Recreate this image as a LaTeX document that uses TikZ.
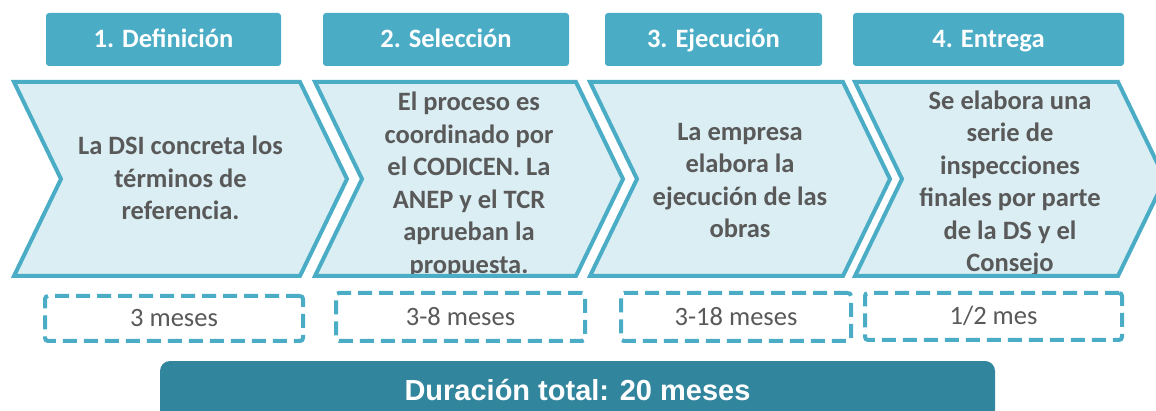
\documentclass[tikz,border=0pt]{standalone}
\usepackage{fontspec}
\setmainfont{Carlito}
\newfontfamily\arialfont{Liberation Sans}
\definecolor{aqua}{HTML}{4BACC6}
\definecolor{aqualight}{HTML}{DAEEF3}
\definecolor{aquadark}{HTML}{31859C}
\definecolor{txtgray}{HTML}{595959}
\begin{document}
\begin{tikzpicture}[x=1pt,y=-1pt,
  chevfill/.style={fill=aqualight},
  chevline/.style={draw=aqua, line width=4pt},
  chevtext/.style={font=\fontsize{26.5}{32.5}\selectfont\bfseries, text=txtgray, align=center, inner sep=0pt},
  hdr/.style={fill=aqua, rounded corners=3pt, inner sep=0pt, text=white,
    font=\fontsize{26.5}{32}\selectfont\bfseries, text height=17pt, text depth=0pt, minimum height=53pt},
  dur/.style={draw=aqua, fill=white, line width=4pt, dash pattern=on 14pt off 7pt,
    rounded corners=3pt, inner sep=0pt, text=txtgray, font=\fontsize{26.5}{32}\selectfont,
    text height=16.7pt, text depth=0pt},
  total/.style={fill=aquadark, rounded corners=10pt, inner sep=0pt, text=white,
    font=\arialfont\bfseries\fontsize{29}{34}\selectfont, text height=20.8pt, text depth=0pt}]
\useasboundingbox (0,0) rectangle (1156,411);
\clip (0,0) rectangle (1156,411);
% headers
\node[hdr, minimum width=235pt] (h1) at (163.5,39.5) {1. Definición};
\node[hdr, minimum width=246pt] (h2) at (446,39.5) {2. Selección};
\node[hdr, minimum width=217pt] (h3) at (713.5,39.5) {3. Ejecución};
\node[hdr, minimum width=271pt] (h4) at (988.5,39.5) {4. Entrega};
% chevron fills
\foreach \l/\r in {14/300, 315/576, 590/843, 855/1118}
  {\fill[chevfill] (\l,82) -- (\r,82) -- (\r+47,179) -- (\r,276) -- (\l,276) -- (\l+47,179) -- cycle;}
% chevron texts
\node[chevtext] (t1) at (180.5,178.3) {La DSI concreta los\\términos de\\referencia.};
\node[chevtext] (t2) at (469,184.8) {El proceso es\\coordinado por\\el CODICEN. La\\ANEP y el TCR\\aprueban la\\propuesta.};
\node[chevtext] (t3) at (740,180.5) {La empresa\\elabora la\\ejecución de las\\obras};
\node[chevtext] (t4) at (1010,183.5) {Se elabora una\\serie de\\inspecciones\\finales por parte\\de la DS y el\\Consejo};
% chevron outlines
\foreach \l/\r in {14/300, 315/576, 590/843, 855/1118}
  {\draw[chevline] (\l,82) -- (\r,82) -- (\r+47,179) -- (\r,276) -- (\l,276) -- (\l+47,179) -- cycle;}
% durations
\node[dur, minimum width=258pt, minimum height=45pt] (d1) at (174,318.5) {3 meses};
\node[dur, minimum width=249pt, minimum height=48pt] (d2) at (460.5,317) {3-8 meses};
\node[dur, minimum width=230pt, minimum height=48pt] (d3) at (736,317) {3-18 meses};
\node[dur, minimum width=257pt, minimum height=47pt] (d4) at (993.5,316.5) {1/2 mes};
% total bar
\node[total, minimum width=835pt, minimum height=59pt] (bar) at (577.5,390.5) {Duración total: 20 meses};
\end{tikzpicture}
\end{document}
